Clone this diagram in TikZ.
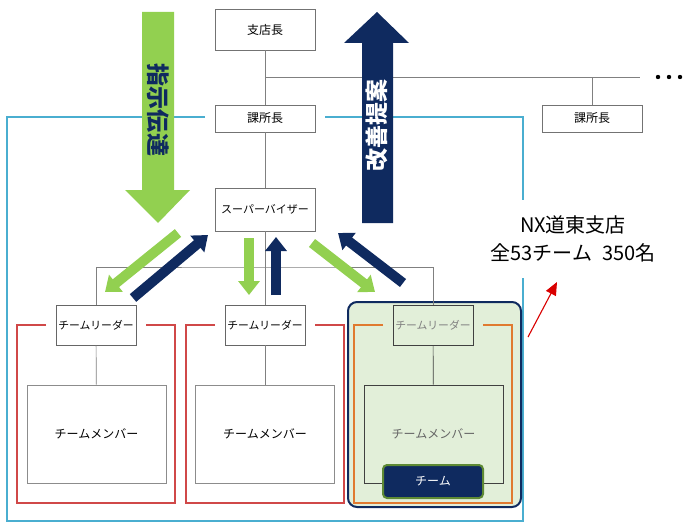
\documentclass[tikz,border=0pt]{standalone}
\usepackage{fontspec}
\newfontfamily\jp{Noto Sans CJK JP}
\usetikzlibrary{arrows.meta}
\definecolor{leafgreen}{HTML}{92D050}
\definecolor{deepnavy}{HTML}{0F2A5F}
\definecolor{frameblue}{HTML}{4AAED0}
\definecolor{teamred}{HTML}{D04848}
\definecolor{teamorange}{HTML}{E07A30}
\definecolor{palegreen}{HTML}{E2EFD9}
\definecolor{chipgreen}{HTML}{5E8A34}
\begin{document}
\begin{tikzpicture}[x=1pt,y=-1pt,
    every node/.style={font=\jp\fontsize{12}{14}\selectfont,inner sep=0pt},
    post/.style={draw=black!55,fill=white,line width=0.8pt,minimum width=100pt},
    leader/.style={draw=black!60,fill=white,line width=0.8pt,minimum width=80pt,minimum height=40pt,
      font=\jp\fontsize{10.8}{13}\selectfont},
    member/.style={draw=black!45,fill=white,line width=0.8pt,minimum width=139pt,minimum height=98pt},
    link/.style={draw=black!50,line width=0.7pt},
    down/.style={leafgreen,line width=10pt,-{Triangle[width=21pt,length=14pt]}},
    up/.style={deepnavy,line width=10pt,-{Triangle[width=21pt,length=14pt]}}]
  \useasboundingbox (0,0) rectangle (684,524);
  % branch frame
  \draw[frameblue,line width=1.4pt] (205,117) -- (7,117) -- (7,521) -- (523,521) -- (523,278);
  \draw[frameblue,line width=1.4pt] (325,117) -- (523,117) -- (523,200);
  % highlighted team
  \draw[deepnavy,fill=palegreen,line width=2pt,rounded corners=9pt] (348,302) rectangle (521,507);
  \foreach \c/\col in {96/teamred,265/teamred,433/teamorange}
    \draw[\col,line width=1.4pt] ({\c-50},325) -| ({\c-79},503) -| ({\c+79},325) -- ({\c+50},325);
  % posts
  \node[post,minimum height=41pt] (shiten) at (265,29.5) {支店長};
  \node[post,minimum height=27pt] (ka1) at (265,118.5) {課所長};
  \node[post,minimum height=27pt] (ka2) at (592,118.5) {課所長};
  \node[post,minimum height=43pt,font=\jp\fontsize{11}{13}\selectfont] (sv) at (265,209.5) {スーパーバイザー};
  \node[leader] (tl1) at (96,325) {チームリーダー};
  \node[leader] (tl2) at (265,325) {チームリーダー};
  \node[leader,fill=none,draw=black!75,text=black!50] (tl3) at (433,325) {チームリーダー};
  \node[member] (mb1) at (96.5,434) {チームメンバー};
  \node[member] (mb2) at (265,434) {チームメンバー};
  \node[member,fill=none,draw=black!75,text=black!60] (mb3) at (433.5,434) {チームメンバー};
  \node[draw=chipgreen,fill=deepnavy,line width=2pt,rounded corners=4pt,minimum width=100pt,
    minimum height=33pt,text=white] (chip) at (433,481.5) {チーム};
  % lines
  \coordinate (branch) at (265,77);
  \coordinate (lineend) at (640,77);
  \coordinate (bus) at (265,267);
  \draw[link] (shiten) -- (ka1);
  \draw[link] (branch) -- (lineend);
  \draw[link] (ka2.north) -- (ka2.north |- branch);
  \draw[link] (ka1) -- (sv);
  \draw[link] (sv) -- (tl2);
  \draw[link] (tl1.north) |- (bus) -| (tl3.north);
  \draw[link] (tl1) -- (mb1);
  \draw[link] (tl2) -- (mb2);
  \draw[link,draw=black!75] (tl3) -- (mb3);
  \foreach \x in {658,669,680}
    \fill (\x,77) circle (2.2);
  % big arrows
  \fill[leafgreen] (142,12) -- (174,12) -- (174,190) -- (190,190) -- (158,223) -- (125,190) -- (142,190) -- cycle;
  \node[rotate=-90,text=deepnavy,font=\jp\bfseries\fontsize{23}{23}\selectfont] (order) at (158,110) {指示伝達};
  \fill[deepnavy] (362,223) -- (393,223) -- (393,43) -- (409,43) -- (377,12) -- (344,43) -- (362,43) -- cycle;
  \node[rotate=90,text=white,font=\jp\bfseries\fontsize{23}{23}\selectfont] (idea) at (377,125) {改善提案};
  % small arrows
  \coordinate (g1s) at (178,233); \coordinate (g1e) at (105,292);
  \coordinate (n1s) at (133,298); \coordinate (n1e) at (208,235);
  \coordinate (g2s) at (249,238); \coordinate (g2e) at (249,295);
  \coordinate (n2s) at (276,295); \coordinate (n2e) at (276,237);
  \coordinate (g3s) at (312,243); \coordinate (g3e) at (375,292);
  \coordinate (n3s) at (403,283); \coordinate (n3e) at (338,233);
  \draw[down] (g1s) -- (g1e);
  \draw[up] (n1s) -- (n1e);
  \draw[down] (g2s) -- (g2e);
  \draw[up] (n2s) -- (n2e);
  \draw[down] (g3s) -- (g3e);
  \draw[up] (n3s) -- (n3e);
  % branch note
  \node[align=center,font=\jp\fontsize{20}{28}\selectfont] (note) at (573,239) {NX道東支店\\全53チーム\enspace 350名};
  \coordinate (rtail) at (528,337);
  \coordinate (rtip) at (557,282);
  \draw[red!85!black,line width=1.1pt,-{Triangle[width=11pt,length=13pt]}] (rtail) -- (rtip);
\end{tikzpicture}
\end{document}
